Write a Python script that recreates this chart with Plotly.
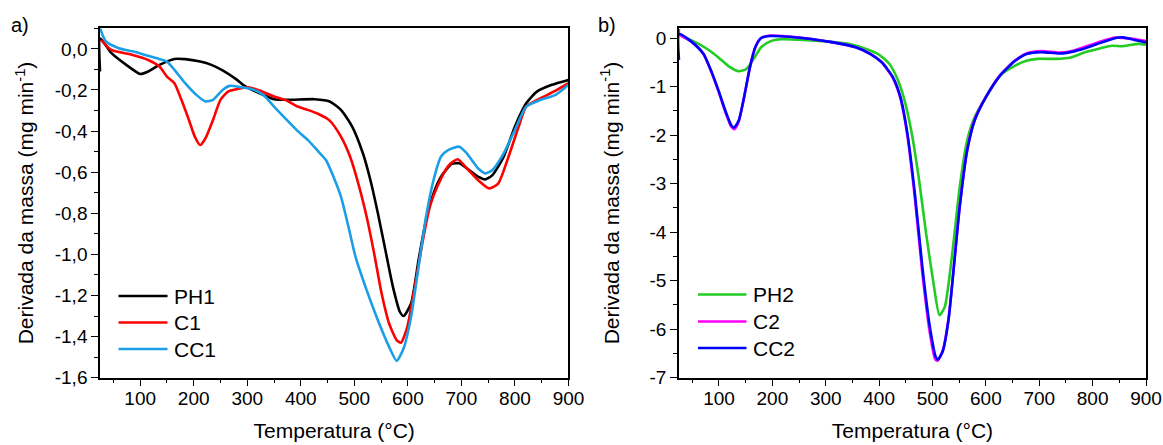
import plotly.graph_objects as go

# ---------------- Panel a data ----------------
t_ph1 = [25, 25.5, 46, 74, 100, 115, 136, 164, 184, 212, 233, 254, 281, 295, 323, 350, 378, 426, 454,
         475, 496, 516, 530, 544, 558, 572, 585, 592, 606, 620, 634, 648, 662, 682, 696, 710, 731, 745,
         758, 779, 800, 821, 841, 869, 900]
v_ph1 = [-0.11, 0.05, -0.02, -0.078, -0.122, -0.11, -0.078, -0.049, -0.05, -0.062, -0.078, -0.105,
         -0.151, -0.18, -0.216, -0.245, -0.248, -0.245, -0.256, -0.297, -0.378, -0.508, -0.638, -0.80,
         -0.979, -1.157, -1.279, -1.30, -1.239, -1.027, -0.833, -0.703, -0.622, -0.56, -0.557, -0.581,
         -0.622, -0.635, -0.614, -0.524, -0.378, -0.265, -0.208, -0.175, -0.151]

t_c1 = [27, 46, 81, 115, 136, 150, 164, 177, 191, 202, 212, 222, 236, 250, 264, 281, 302, 323, 350,
        371, 392, 413, 433, 454, 475, 492, 509, 523, 537, 551, 565, 579, 587, 599, 613, 627, 641, 655,
        676, 693, 710, 731, 752, 769, 786, 807, 821, 848, 876, 900]
v_c1 = [0.044, -0.005, -0.026, -0.054, -0.086, -0.135, -0.167, -0.248, -0.346, -0.427, -0.468, -0.435,
        -0.346, -0.248, -0.208, -0.196, -0.187, -0.203, -0.232, -0.248, -0.278, -0.297, -0.317, -0.349,
        -0.427, -0.524, -0.67, -0.817, -0.995, -1.19, -1.336, -1.417, -1.43, -1.352, -1.157, -0.946,
        -0.768, -0.67, -0.568, -0.537, -0.581, -0.638, -0.679, -0.654, -0.54, -0.378, -0.281, -0.24,
        -0.203, -0.167]

t_cc1 = [25, 36, 60, 88, 115, 136, 150, 164, 184, 205, 222, 236, 254, 267, 288, 309, 330, 350, 371,
         392, 413, 433, 447, 461, 475, 489, 502, 523, 544, 565, 579, 592, 606, 620, 634, 648, 662, 676,
         696, 710, 731, 745, 758, 779, 800, 821, 848, 876, 900]
v_cc1 = [0.10, 0.036, 0.003, -0.013, -0.034, -0.05, -0.062, -0.102, -0.167, -0.224, -0.256, -0.248,
         -0.2, -0.18, -0.187, -0.196, -0.224, -0.281, -0.338, -0.394, -0.443, -0.5, -0.541, -0.622,
         -0.719, -0.865, -1.01, -1.174, -1.32, -1.45, -1.518, -1.458, -1.304, -1.06, -0.816, -0.638,
         -0.524, -0.492, -0.476, -0.508, -0.581, -0.606, -0.589, -0.508, -0.394, -0.281, -0.248,
         -0.224, -0.175]

# ---------------- Panel b data ----------------
t_ph2 = [28, 50, 78, 99, 119, 137, 151, 165, 179, 196, 217, 259, 300, 342, 377, 398, 419, 433, 446,
         460, 474, 488, 502, 513, 523, 537, 551, 565, 579, 600, 627, 655, 676, 697, 732, 759, 787, 815,
         836, 857, 885, 900]
v_ph2 = [0.05, -0.055, -0.226, -0.40, -0.59, -0.685, -0.64, -0.43, -0.19, -0.07, -0.027, -0.04, -0.07,
         -0.12, -0.23, -0.33, -0.53, -0.81, -1.22, -1.9, -2.86, -4.03, -5.06, -5.71, -5.54, -4.44,
         -3.07, -2.11, -1.63, -1.22, -0.77, -0.57, -0.47, -0.43, -0.43, -0.40, -0.29, -0.21, -0.16,
         -0.17, -0.12, -0.14]

t_c2 = [25, 25.5, 50, 71, 85, 99, 113, 123, 129, 137, 147, 158, 168, 179, 196, 231, 273, 314, 356,
        384, 405, 426, 440, 453, 467, 481, 495, 505, 509, 519, 530, 540, 551, 565, 579, 600, 627, 655,
        676, 704, 739, 767, 794, 815, 843, 857, 878, 900]
v_c2 = [0.19, 0.08, -0.09, -0.33, -0.68, -1.10, -1.56, -1.83, -1.88, -1.72, -1.22, -0.6, -0.19, 0.0,
        0.05, 0.03, -0.02, -0.09, -0.19, -0.33, -0.5, -0.83, -1.25, -2.02, -3.30, -4.85, -6.08, -6.62,
        -6.65, -6.45, -5.78, -4.70, -3.46, -2.30, -1.68, -1.21, -0.76, -0.46, -0.32, -0.27, -0.30,
        -0.25, -0.15, -0.07, 0.01, 0.0, -0.02, -0.06]

t_cc2 = [25, 25.5, 50, 71, 85, 99, 113, 123, 128, 137, 147, 158, 168, 179, 196, 231, 273, 314, 356,
         384, 405, 426, 440, 453, 467, 481, 495, 506, 510, 519, 530, 540, 551, 565, 579, 600, 627, 655,
         676, 704, 739, 767, 794, 815, 843, 857, 878, 900]
v_cc2 = [-0.45, 0.08, -0.09, -0.33, -0.67, -1.08, -1.53, -1.80, -1.85, -1.70, -1.22, -0.6, -0.19, 0.0,
         0.04, 0.027, -0.02, -0.09, -0.19, -0.33, -0.5, -0.81, -1.22, -1.97, -3.21, -4.72, -5.95,
         -6.57, -6.63, -6.46, -5.81, -4.72, -3.48, -2.32, -1.70, -1.22, -0.77, -0.47, -0.33, -0.29,
         -0.32, -0.27, -0.18, -0.10, 0.0, 0.014, -0.04, -0.09]

# ---------------- Names / tick labels ----------------
names_a = ["PH1", "C1", "CC1"]
names_b = ["PH2", "C2", "CC2"]
colors_a = ["#000000", "#ff0000", "#1a9fe6"]
colors_b = ["#22cc22", "#ff00ff", "#0000ff"]

x_ticks = [100, 200, 300, 400, 500, 600, 700, 800, 900]
x_ticktext = ["100", "200", "300", "400", "500", "600", "700", "800", "900"]
ya_ticks = [0.0, -0.2, -0.4, -0.6, -0.8, -1.0, -1.2, -1.4, -1.6]
ya_ticktext = ["0,0", "-0,2", "-0,4", "-0,6", "-0,8", "-1,0", "-1,2", "-1,4", "-1,6"]
yb_ticks = [0, -1, -2, -3, -4, -5, -6, -7]
yb_ticktext = ["0", "-1", "-2", "-3", "-4", "-5", "-6", "-7"]

FONT = "Arial, Liberation Sans, sans-serif"
LW = 2.6
W, H = 1163, 445

fig = go.Figure()

series_a = [(t_ph1, v_ph1), (t_c1, v_c1), (t_cc1, v_cc1)]
series_b = [(t_ph2, v_ph2), (t_c2, v_c2), (t_cc2, v_cc2)]

for (t, v), n, c in zip(series_a, names_a, colors_a):
    fig.add_trace(go.Scatter(x=t, y=v, name=n, mode="lines",
                             line=dict(color=c, width=LW, shape="spline", smoothing=0.6),
                             xaxis="x", yaxis="y"))
for (t, v), n, c in zip(series_b, names_b, colors_b):
    fig.add_trace(go.Scatter(x=t, y=v, name=n, mode="lines",
                             line=dict(color=c, width=LW, shape="spline", smoothing=0.6),
                             xaxis="x2", yaxis="y2"))

axis_common = dict(showline=True, linecolor="black", linewidth=1.5, mirror=True,
                   ticks="outside", ticklen=7, tickwidth=1.3, tickcolor="black",
                   showgrid=False, zeroline=False, automargin=False,
                   tickfont=dict(family=FONT, size=19, color="black"))

xdef = dict(axis_common, tickmode="array", tickvals=x_ticks, ticktext=x_ticktext, range=[25, 900],
            ticklabelstandoff=-4,
            minor=dict(tickmode="linear", tick0=0, dtick=50, ticks="outside", ticklen=4,
                       tickwidth=1.3, tickcolor="black", showgrid=False),
            title=dict(text="Temperatura (°C)", font=dict(family=FONT, size=21, color="black"),
                       standoff=15))

ytitle = "Derivada da massa (mg min<sup>-1</sup>)"

# Manual legends (line sample + label), positioned in paper coordinates
shapes = []
annotations = []
leg_a = dict(x0=118.5, x1=167.5, xt=172, rows=[296, 322.5, 349])
leg_b = dict(x0=698, x1=746.5, xt=751, rows=[294.5, 321.5, 348])
for leg, names, colors in [(leg_a, names_a, colors_a), (leg_b, names_b, colors_b)]:
    for yy, n, c in zip(leg["rows"], names, colors):
        yp = 1 - yy / H
        shapes.append(dict(type="line", xref="paper", yref="paper",
                           x0=leg["x0"] / W, x1=leg["x1"] / W, y0=yp, y1=yp,
                           line=dict(color=c, width=LW)))
        annotations.append(dict(text=n, x=leg["xt"] / W, y=yp, xref="paper", yref="paper",
                                xanchor="left", yanchor="middle", showarrow=False,
                                font=dict(family=FONT, size=21, color="black")))

annotations += [
    dict(text="a)", x=9 / W, y=1 - 25 / H, xref="paper", yref="paper", xanchor="left",
         yanchor="middle", showarrow=False, font=dict(family=FONT, size=20, color="black")),
    dict(text="b)", x=596 / W, y=1 - 25 / H, xref="paper", yref="paper", xanchor="left",
         yanchor="middle", showarrow=False, font=dict(family=FONT, size=20, color="black")),
]

fig.update_layout(
    template="none",
    width=W, height=H,
    margin=dict(l=0, r=0, t=0, b=0, autoexpand=False),
    paper_bgcolor="white", plot_bgcolor="white",
    showlegend=False,
    xaxis=dict(xdef, domain=[0.086, 0.4888], anchor="y"),
    xaxis2=dict(xdef, domain=[0.5838, 0.9854], anchor="y2"),
    yaxis=dict(axis_common, domain=[0.1512, 0.9364], anchor="x", range=[-1.6, 0.1],
               tickmode="array", tickvals=ya_ticks, ticktext=ya_ticktext,
               minor=dict(tickmode="linear", tick0=0, dtick=0.1, ticks="outside", ticklen=4,
                          tickwidth=1.3, tickcolor="black", showgrid=False),
               title=dict(text=ytitle, font=dict(family=FONT, size=21, color="black"),
                          standoff=15)),
    yaxis2=dict(axis_common, domain=[0.1512, 0.9364], anchor="x2", range=[-7, 0.2],
                tickmode="array", tickvals=yb_ticks, ticktext=yb_ticktext,
                minor=dict(tickmode="linear", tick0=0, dtick=0.5, ticks="outside", ticklen=4,
                           tickwidth=1.3, tickcolor="black", showgrid=False),
                title=dict(text=ytitle, font=dict(family=FONT, size=21, color="black"),
                           standoff=24)),
    shapes=shapes,
    annotations=annotations,
)

fig.write_html("out.html")
